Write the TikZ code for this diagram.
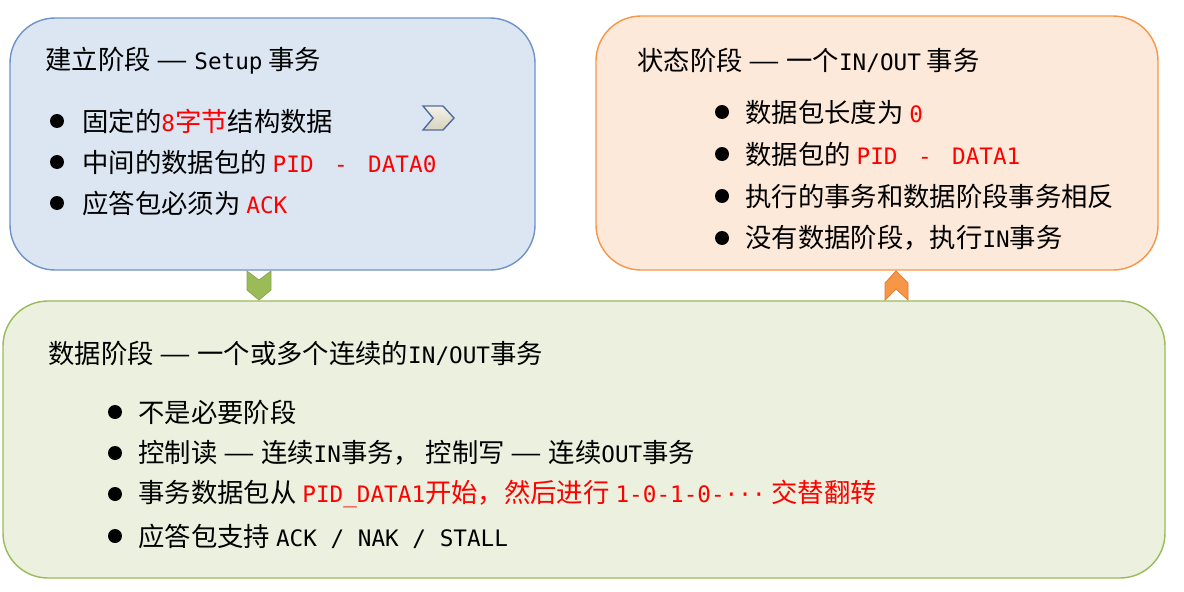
\documentclass[tikz,border=0pt]{standalone}
\usepackage{fontspec}
\setmainfont{Noto Sans CJK SC}
\newfontfamily\latinmono{DejaVu Sans Mono}[Scale=0.86]
\usetikzlibrary{fit}
\definecolor{setupfill}{HTML}{DCE6F2}
\definecolor{setupline}{HTML}{6F92C8}
\definecolor{statusfill}{HTML}{FDE9D9}
\definecolor{statusline}{HTML}{F79646}
\definecolor{datafill}{HTML}{EBF1DE}
\definecolor{dataline}{HTML}{9BBB59}
\definecolor{usbred}{HTML}{FF0000}
\definecolor{chevtop}{HTML}{F4F1E8}
\definecolor{chevbot}{HTML}{D8D3BC}
\definecolor{chevline}{HTML}{4F6E9E}
\definecolor{upline}{HTML}{D9782F}
\definecolor{downline}{HTML}{86A44A}

\newcommand{\hl}[1]{\textcolor{usbred}{#1}}
\newcommand{\la}[1]{{\latinmono #1}}
\newcommand{\ldash}{\scalebox{1.35}[1]{—}}
\newcommand{\pidsep}{\ \hspace{0.3em}-\ \hspace{0.3em}}

\begin{document}
\begin{tikzpicture}[x=0.02cm,y=-0.02cm]
\tikzstyle{stage} = [rounded corners=0.9cm, line width=0.8pt, inner sep=0pt]
\tikzstyle{txt} = [anchor=west, inner sep=0pt, font=\fontsize{15}{17}\selectfont]
\tikzstyle{dot} = [shape=circle, fill=black, minimum size=0.28cm, inner sep=0pt]

\useasboundingbox (0,0) rectangle (1184,592);

% the three stages
\node[stage, draw=setupline, fill=setupfill, fit={(10,18) (535,270)}] (setup) {};
\node[stage, draw=statusline, fill=statusfill, fit={(596,16) (1158,270)}] (status) {};
\node[stage, draw=dataline, fill=datafill, fit={(3,301) (1165,578)}] (data) {};

% chevrons
\draw[fill=dataline, draw=downline] (247,271) -- (259,280) -- (271,271) -- (271,290) -- (259,300) -- (247,290) -- cycle;
\draw[fill=statusline, draw=upline] (885,300) -- (885,283) -- (896,271) -- (908,283) -- (908,300) -- (896,289) -- cycle;
\path[top color=chevtop, bottom color=chevbot, draw=chevline, line width=0.8pt] (423,106) -- (443,106) -- (454,118) -- (443,130) -- (423,130) -- (433,118) -- cycle;

% setup stage
\node[txt] (setuptitle) at (45,61) {建立阶段 \ldash{} \la{Setup} 事务};
\foreach \y in {121,162,203} \node[dot] (sd\y) at (57,\y) {};
\node[txt] (s1) at (82,121) {固定的\hl{\la{8}字节}结构数据};
\node[txt] (s2) at (82,162) {中间的数据包的 \hl{\la{PID\pidsep DATA0}}};
\node[txt] (s3) at (82,203) {应答包必须为 \hl{\la{ACK}}};

% status stage
\node[txt] (statustitle) at (637,60) {状态阶段 \ldash{} 一个\la{IN/OUT} 事务};
\foreach \y in {112,154,196,238} \node[dot] (td\y) at (722,\y) {};
\node[txt] (t1) at (745,112) {数据包长度为 \hl{\la{0}}};
\node[txt] (t2) at (745,154) {数据包的 \hl{\la{PID\pidsep DATA1}}};
\node[txt] (t3) at (745,196) {执行的事务和数据阶段事务相反};
\node[txt] (t4) at (745,238) {没有数据阶段，执行\la{IN}事务};

% data stage
\node[txt] (datatitle) at (48,353) {数据阶段 \ldash{} 一个或多个连续的\la{IN/OUT}事务};
\foreach \y in {412,453,494,536} \node[dot] (dd\y) at (115,\y) {};
\node[txt] (d1) at (138,412) {不是必要阶段};
\node[txt] (d2) at (138,453) {控制读 \ldash{} 连续\la{IN}事务，~控制写 \ldash{} 连续\la{OUT}事务};
\node[txt] (d3) at (138,494) {事务数据包从 \hl{\la{PID\_DATA1}开始，然后进行 \la{1-0-1-0-···} 交替翻转}};
\node[txt] (d4) at (138,536) {应答包支持 \la{ACK / NAK / STALL}};

\end{tikzpicture}
\end{document}
